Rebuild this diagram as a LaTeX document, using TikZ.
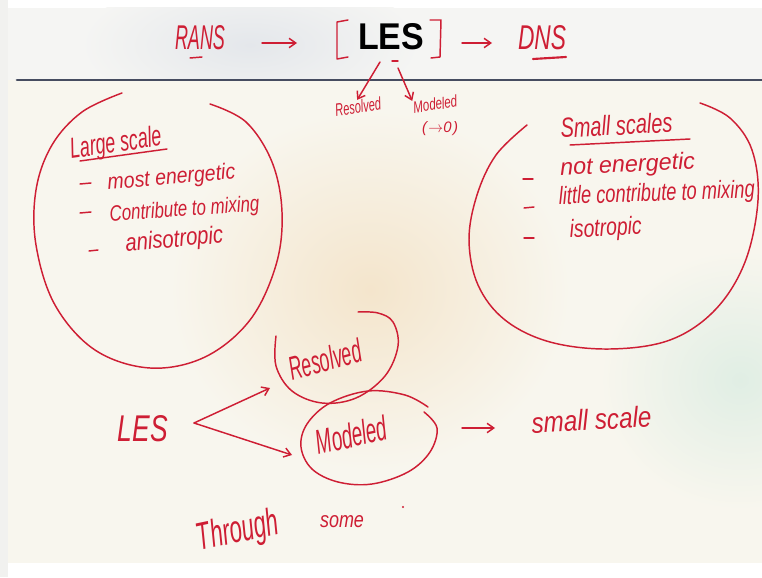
\documentclass[tikz,border=0pt]{standalone}
\usepackage{fontspec}
\usepackage{graphicx}
\newfontfamily\lesfont{Liberation Sans}
\newfontfamily\hand{Liberation Sans}
\usetikzlibrary{arrows.meta}
\definecolor{inkred}{RGB}{206,30,52}
\definecolor{cream}{RGB}{248,246,238}
\definecolor{topbg}{RGB}{245,245,243}
\definecolor{greyish}{RGB}{228,231,235}
\definecolor{beige}{RGB}{244,229,204}
\definecolor{greenbg}{RGB}{224,238,228}
\definecolor{navy}{RGB}{70,76,96}
\definecolor{leftstrip}{RGB}{241,241,239}
\newlength\pxu
\setlength\pxu{0.75pt}
\newcommand\fitwh[3]{\resizebox{#1\pxu}{#2\pxu}{#3}}
\begin{document}
\begin{tikzpicture}[x=0.75pt,y=-0.75pt, line cap=round, line join=round,
  ink/.style={draw=inkred, line width=1.1pt},
  hw/.style={text=inkred, font=\hand\itshape, inner sep=0pt},
  arr/.style={ink, -{Straight Barb[length=5pt,width=7pt]}}]
\useasboundingbox (0,0) rectangle (762,577);
% background
\fill[white] (0,0) rectangle (762,577);
\fill[leftstrip] (0,0) rectangle (8,577);
\fill[topbg] (8,8) rectangle (762,80);
\fill[cream] (8,80) rectangle (762,563);
\begin{scope}
  \clip (8,8) rectangle (762,80);
  \shade[inner color=greyish, outer color=topbg] (250,45) ellipse (170 and 70);
\end{scope}
\begin{scope}
  \clip (8,80) rectangle (762,563);
  \shade[inner color=beige, outer color=cream] (370,290) ellipse (200 and 180);
  \shade[inner color=greenbg, outer color=cream] (740,380) ellipse (140 and 130);
\end{scope}
\draw[navy, line width=2pt] (17,80) -- (762,80);

% top row
\node[hw, anchor=base] (rans) at (200,50) {\fitwh{50}{24}{RANS}};
\node[inner sep=0pt, font=\lesfont\bfseries, anchor=base] (lesb) at (391,50) {\fitwh{66}{26}{LES}};
\node[hw, anchor=base] (dns) at (542,50) {\fitwh{48}{24}{DNS}};
\draw[ink] (348,20) -- (337,22) -- (337,59) -- (348,57);
\draw[ink] (430,20) -- (441,20) -- (440,57) -- (431,58);
\draw[ink] (190,58) -- (202,57);
\draw[ink, line width=1.6pt] (533,59) -- (566,57);
\coordinate (a1) at (262,43);
\coordinate (a2) at (297,43);
\coordinate (a3) at (462,43);
\coordinate (a4) at (492,43);

% small labels under LES
\node[hw, rotate=8, anchor=base] (rs) at (359,113) {\fitwh{46}{13}{Resolved}};
\node[hw, rotate=8, anchor=base] (ms) at (436,110) {\fitwh{44}{12}{Modeled}};
\node[hw, anchor=base] (m0) at (440,133) {\fitwh{36}{11}{(\kern1pt$\to$0\kern1pt)}};
\coordinate (s1) at (380,62);
\coordinate (s2) at (398,68);
\draw[ink] (392,61) -- (398,61);

% left loop
\draw[ink] plot[smooth, tension=0.6] coordinates {(122,93) (82,112) (52,145) (36,190) (36,245) (55,305) (95,350) (150,368) (205,357) (250,320) (276,265) (282,212) (272,162) (246,122) (210,104)};
\node[hw, rotate=8, anchor=base] (large) at (117,152) {\fitwh{92}{21}{Large scale}};
\draw[ink] (80,161) -- (167,149);
\draw[ink] (80,184) -- (91,183);
\node[hw, rotate=5, anchor=base] (le1) at (172,184) {\fitwh{128}{16}{most energetic}};
\draw[ink] (80,213) -- (91,212);
\node[hw, rotate=4, anchor=base] (le2) at (185,216) {\fitwh{150}{16}{Contribute to mixing}};
\draw[ink] (89,251) -- (98,250);
\node[hw, rotate=5, anchor=base] (le3) at (175,247) {\fitwh{98}{18}{anisotropic}};

% right loop
\draw[ink] plot[smooth, tension=0.6] coordinates {(527,125) (496,155) (477,195) (469,240) (478,285) (505,320) (550,342) (610,349) (670,340) (715,310) (745,262) (758,200) (752,150) (730,118) (700,103)};
\node[hw, rotate=3, anchor=base] (small) at (617,135) {\fitwh{112}{20}{Small scales}};
\draw[ink] (570,145) -- (690,139);
\draw[ink] (523,179) -- (533,179);
\node[hw, rotate=3, anchor=base] (re1) at (628,172) {\fitwh{135}{17}{not energetic}};
\draw[ink] (524,208) -- (534,207);
\node[hw, rotate=2, anchor=base] (re2) at (657,201) {\fitwh{196}{18}{little contribute to mixing}};
\draw[ink] (524,238) -- (534,238);
\node[hw, rotate=3, anchor=base] (re3) at (606,236) {\fitwh{72}{18}{isotropic}};

% bottom part
\node[hw, anchor=base] (lesh) at (143,441) {\fitwh{50}{26}{LES}};
\coordinate (v) at (194,423);
\coordinate (t1) at (270,388);
\coordinate (t2) at (292,455);
\draw[ink] plot[smooth, tension=0.6] coordinates {(276,336) (276,366) (292,391) (322,403) (356,398) (385,376) (398,346) (393,322) (378,313) (358,312)};
\node[hw, rotate=15, anchor=base] (res) at (328,371) {\fitwh{74}{24}{Resolved}};
\draw[ink] plot[smooth, tension=0.6] coordinates {(424,412) (437,428) (430,452) (408,472) (372,484) (338,482) (312,469) (301,447) (307,424) (330,403) (368,391) (405,395) (428,407)};
\node[hw, rotate=12, anchor=base] (mod) at (354,447) {\fitwh{72}{25}{Modeled}};
\node[hw, rotate=3, anchor=base] (ss) at (592,430) {\fitwh{120}{21}{small scale}};
\coordinate (b1) at (462,428);
\coordinate (b2) at (495,428);
\node[hw, rotate=12, anchor=base] (thr) at (240,542) {\fitwh{82}{28}{Through}};
\node[hw, anchor=base] (some) at (342,527) {\fitwh{44}{12}{some}};
\fill[inkred] (403,507) circle (1.2);

% connectors
\draw[arr] (a1) -- (a2);
\draw[arr] (a3) -- (a4);
\draw[arr] (s1) -- (rs.north);
\draw[arr] (s2) -- (ms.north west);
\draw[arr] (v) -- (t1);
\draw[arr] (v) -- (t2);
\draw[arr] (b1) -- (b2);
\end{tikzpicture}
\end{document}
